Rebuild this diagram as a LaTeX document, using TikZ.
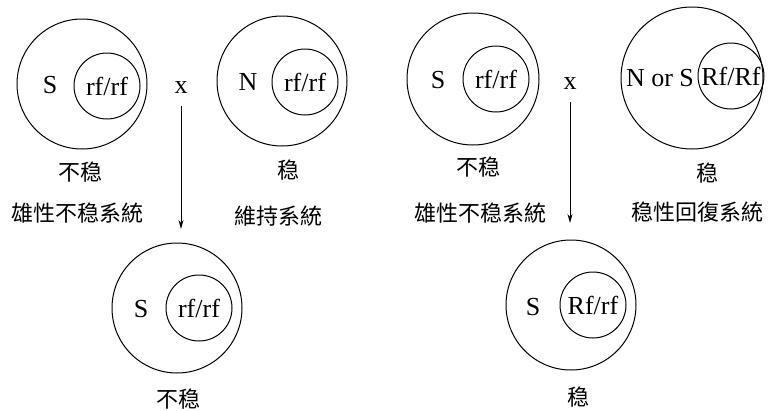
\documentclass[tikz,border=0pt]{standalone}
\usepackage{fontspec}
\setmainfont{Liberation Serif}
\newfontfamily\cjk{Noto Sans CJK TC}
\usetikzlibrary{arrows.meta}
\begin{document}
\begin{tikzpicture}[x=1pt,y=-1pt,
  ring/.style={circle,draw,line width=1pt,inner sep=0pt},
  outerc/.style={ring,minimum size=130pt},
  innerc/.style={ring,minimum size=66pt},
  lat/.style={font=\fontsize{26}{26}\selectfont,inner sep=0pt},
  zh/.style={font=\cjk\fontsize{22}{22}\selectfont,inner sep=0pt},
  cross/.style={line width=0.9pt,-{Stealth[length=9pt,width=5pt]}}]
\useasboundingbox (0,0) rectangle (769,410);
% top-left
\node[outerc] (o1) at (82,84) {};
\node[innerc,lat] (i1) at (107,86) {rf/rf};
\node[lat] (s1) at (50,85) {S};
\node[zh] (l1a) at (80,172) {不稳};
\node[zh] (l1b) at (78,213) {雄性不稳系統};
% top second
\node[outerc] (o2) at (282,81) {};
\node[innerc,lat] (i2) at (305,82) {rf/rf};
\node[lat] (n2) at (248,82) {N};
\node[zh] (l2a) at (288,170) {稳};
\node[zh] (l2b) at (278,216) {維持系統};
% cross 1
\node[lat] (x1) at (181,88) {x};
\coordinate (x1s) at (181,106);
\coordinate (x1e) at (181,229);
\draw[cross] (x1s) -- (x1e);
% bottom-left
\node[outerc] (o5) at (177,308) {};
\node[innerc,lat] (i5) at (199,308) {rf/rf};
\node[lat] (s5) at (141,309) {S};
\node[zh] (l5) at (178,399) {不稳};
% top third
\node[outerc,minimum size=132pt] (o3) at (473,79) {};
\node[innerc,lat] (i3) at (496,79) {rf/rf};
\node[lat] (s3) at (438,80) {S};
\node[zh] (l3a) at (478,167) {不稳};
\node[zh] (l3b) at (480,213) {雄性不稳系統};
% top fourth
\node[outerc,minimum size=142pt] (o4) at (692,78) {};
\node[innerc,lat] (i4) at (731,76) {Rf/Rf};
\node[lat] (n4) at (660,78) {N or S};
\node[zh] (l4a) at (707,173) {稳};
\node[zh] (l4b) at (697,212) {稳性回復系統};
% cross 2
\node[lat] (x2) at (570,84) {x};
\coordinate (x2s) at (570,102);
\coordinate (x2e) at (570,223);
\draw[cross] (x2s) -- (x2e);
% bottom-right
\node[outerc] (o6) at (571,305) {};
\node[innerc,lat] (i6) at (593,305) {Rf/rf};
\node[lat] (s6) at (533,307) {S};
\node[zh] (l6) at (578,397) {稳};
\end{tikzpicture}
\end{document}
